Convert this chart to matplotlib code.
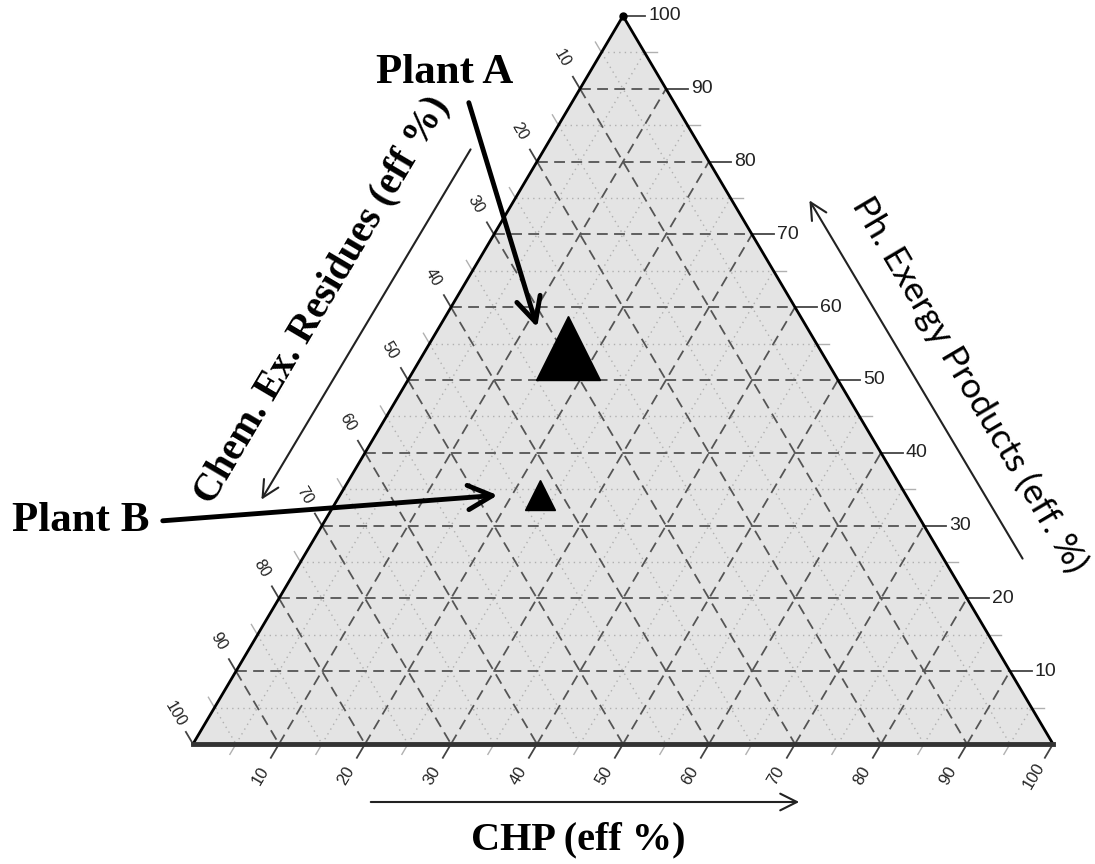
import numpy as np
import matplotlib
matplotlib.use("Agg")
import matplotlib.pyplot as plt

# data: compositions (%)
plants = ["Plant A", "Plant B"]
chp = [16.4, 23.3]
ph = [54.4, 34.2]
chem = [29.2, 42.5]
marker_sizes = [46, 22]

major = list(range(10, 100, 10))
minor = list(range(5, 100, 10))
tick_labels = list(range(10, 101, 10))

# triangle corners in figure pixels (layout)
BL = np.array([193.0, 744.0])   # chem = 100
BR = np.array([1053.0, 744.0])  # chp = 100
TOP = np.array([623.0, 16.0])   # ph = 100


def tern(c, p, k):
    return (k * BL + c * BR + p * TOP) / 100.0


def unit(v):
    return v / np.linalg.norm(v)


fig = plt.figure(figsize=(10.95, 8.64), dpi=100)
ax = fig.add_axes([0, 0, 1, 1])
ax.set_xlim(0, 1095)
ax.set_ylim(864, 0)
ax.axis("off")

tri = np.array([BL, BR, TOP, BL])
ax.fill(tri[:, 0], tri[:, 1], color="#e4e4e4", zorder=0)

# grid lines
def grid(vals, **kw):
    for v in vals:
        pts = [
            (tern(0, v, 100 - v), tern(100 - v, v, 0)),   # constant ph
            (tern(v, 0, 100 - v), tern(v, 100 - v, 0)),   # constant chp
            (tern(0, 100 - v, v), tern(100 - v, 0, v)),   # constant chem
        ]
        for a, b in pts:
            ax.plot([a[0], b[0]], [a[1], b[1]], **kw)

grid(minor, color="#b0b0b0", lw=1.0, ls=(0, (1, 3)), zorder=1)
grid(major, color="#555555", lw=1.3, ls=(0, (6, 3.5)), zorder=2)

# border
ax.plot([BL[0], TOP[0], BR[0]], [BL[1], TOP[1], BR[1]], color="black", lw=2, zorder=4)
ax.plot([BL[0], BR[0]], [BL[1], BR[1]], color="#333333", lw=3.5, zorder=4)
ax.plot(TOP[0], TOP[1], "o", color="black", ms=5, zorder=5)

d_right = np.array([1.0, 0.0])
d_bottom = unit(BL - TOP)
d_left = unit(TOP - BR)
rot = np.degrees(np.arctan2(BL[1] - TOP[1], TOP[0] - BL[0]))  # ~59.4 deg

tick_font = dict(family="Liberation Sans", color="#222222")

# minor ticks
for v in minor:
    for start, d in [(tern(100 - v, v, 0), d_right),
                     (tern(v, 0, 100 - v), d_bottom),
                     (tern(0, 100 - v, v), d_left)]:
        e = start + d * 12
        ax.plot([start[0], e[0]], [start[1], e[1]], color="#b0b0b0", lw=1, zorder=1)

# major ticks + labels
for v in tick_labels:
    # right (Ph)
    s = tern(100 - v, v, 0)
    e = s + d_right * 22
    ax.plot([s[0], e[0]], [s[1], e[1]], color="#444444", lw=1.3)
    ax.text(e[0] + 3, e[1], str(v), ha="left", va="center", fontsize=14, **tick_font)
    # bottom (CHP)
    s = tern(v, 0, 100 - v)
    e = s + d_bottom * 16
    ax.plot([s[0], e[0]], [s[1], e[1]], color="#444444", lw=1.3)
    lp = s + d_bottom * 37
    ax.text(lp[0], lp[1], str(v), ha="center", va="center", rotation=rot,
            fontsize=12, **tick_font)
    # left (Chem)
    s = tern(0, 100 - v, v)
    e = s + d_left * 14
    ax.plot([s[0], e[0]], [s[1], e[1]], color="#444444", lw=1.3)
    lp = s + d_left * 35
    ax.text(lp[0], lp[1], str(v), ha="center", va="center", rotation=-rot,
            fontsize=11.5, **tick_font)

# axis direction arrows
arrow_kw = dict(arrowstyle="->,head_length=0.6,head_width=0.3", color="#222222",
                lw=1.5, mutation_scale=20)
ax.annotate("", xy=(260, 502), xytext=(472, 147), arrowprops=arrow_kw)
ax.annotate("", xy=(808, 198), xytext=(1024, 561), arrowprops=arrow_kw)
ax.annotate("", xy=(802, 802), xytext=(368, 802), arrowprops=arrow_kw)

# axis titles
serif_bold = dict(family="Liberation Serif", fontweight="bold", color="black")
ax.text(578, 840, "CHP (eff %)", ha="center", va="center", fontsize=29, **serif_bold)
ax.text(322, 300, "Chem. Ex. Residues (eff %)", ha="center", va="center",
        rotation=rot, fontsize=28.5, **serif_bold)
ax.text(970, 385, "Ph. Exergy Products (eff. %)", ha="center", va="center",
        rotation=-rot, fontsize=25.5, family="Lato", color="black")

# plant markers
for name, c, p, k, ms in zip(plants, chp, ph, chem, marker_sizes):
    x, y = tern(c, p, k)
    ax.plot(x, y, "^", color="black", ms=ms, zorder=6)

# labels with arrows
label_pos = [(445, 73), (81, 521)]
tail = [(468, 100), (160, 521)]
tip_offset = [(-30, -18), (-40, 0)]
for name, c, p, k, lp, tl, off in zip(plants, chp, ph, chem, label_pos, tail, tip_offset):
    x, y = tern(c, p, k)
    ax.text(lp[0], lp[1], name, ha="center", va="center", fontsize=31, **serif_bold)
    ax.annotate("", xy=(x + off[0], y + off[1]), xytext=tl,
                arrowprops=dict(arrowstyle="->,head_length=0.7,head_width=0.35",
                                color="black", lw=3.5, mutation_scale=25))

fig.savefig("out.png", dpi=100)
